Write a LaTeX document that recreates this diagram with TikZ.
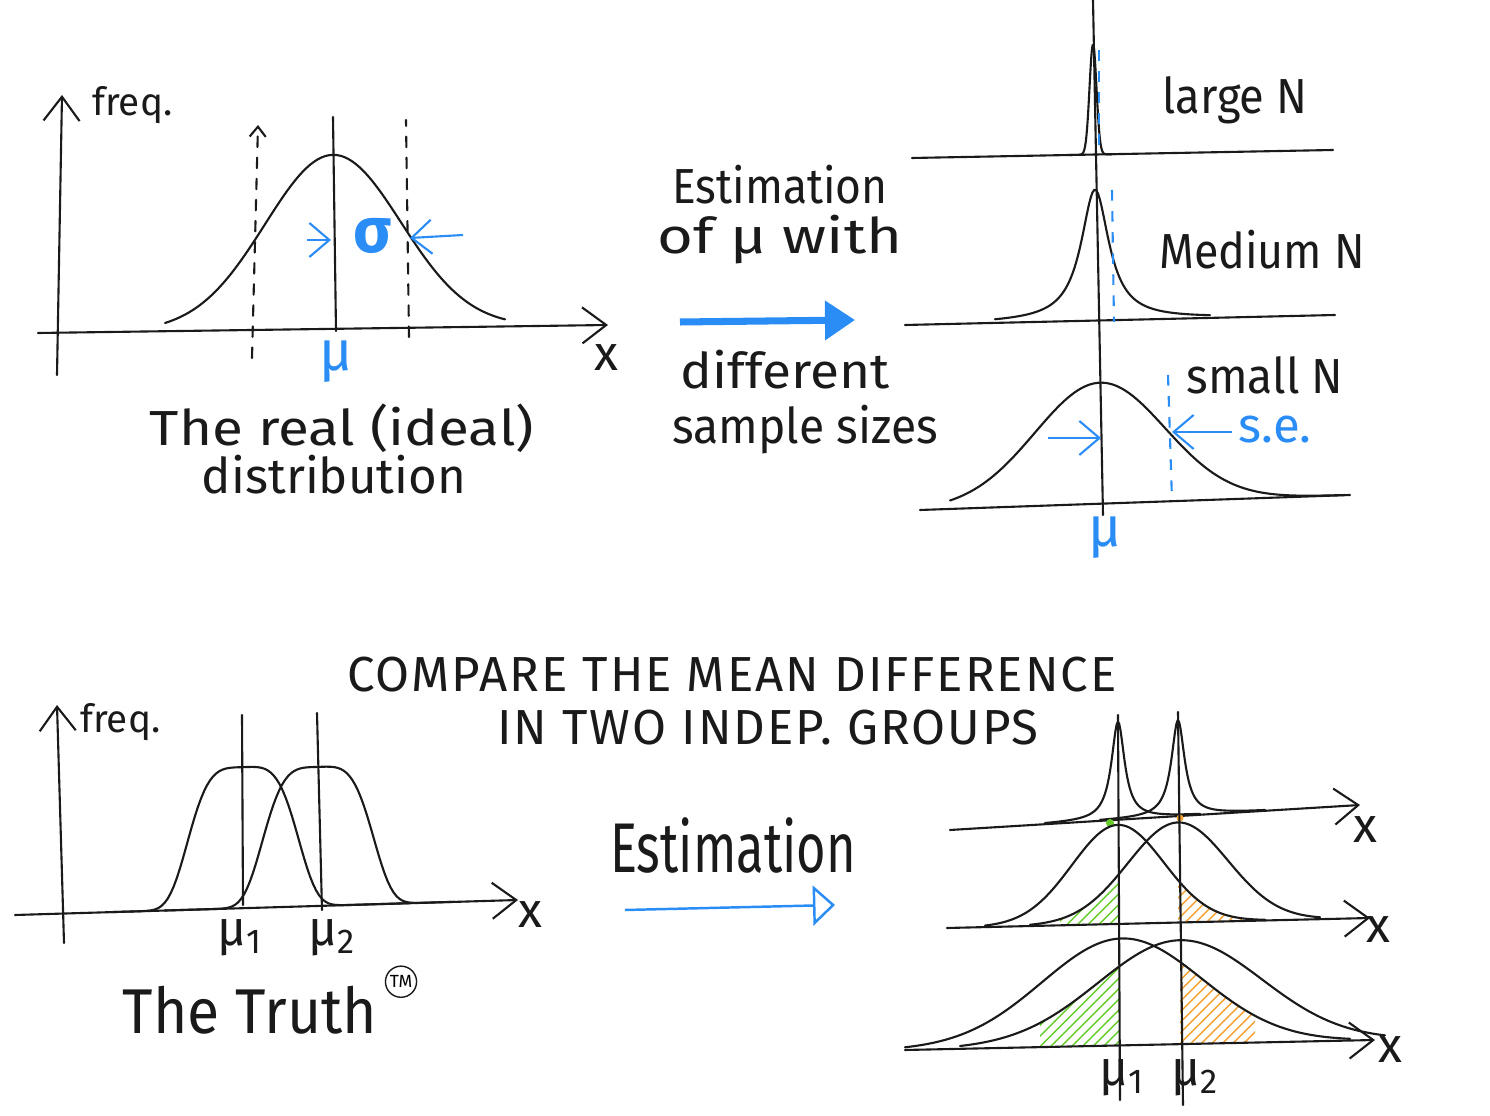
\documentclass[tikz,border=0pt]{standalone}
\usepackage{fontspec}
\setmainfont{Fira Sans}
\usepackage{graphicx}
\usepackage{tikz}
\usetikzlibrary{positioning,arrows.meta,patterns}
\definecolor{SBlue}{HTML}{2A8CF5}
\definecolor{SGreen}{HTML}{66CC2A}
\definecolor{SOrange}{HTML}{F5A030}
\definecolor{SInk}{HTML}{1A1A1A}
\newcommand{\sqz}[2]{\scalebox{#1}[1]{#2}}

\tikzset{
  declare function={gs(\x,\m,\s)=exp(-0.5*((\x-\m)/\s)*((\x-\m)/\s));
                    ct(\x,\m,\g)=1/(1+((\x-\m)/\g)*((\x-\m)/\g));
                    fl(\x,\m,\s)=exp(-((\x-\m)/\s)*((\x-\m)/\s)*((\x-\m)/\s)*((\x-\m)/\s));},
  ink/.style={draw=SInk, line width=0.6pt, line join=round, line cap=round},
  axisarrow/.style={ink, -{Straight Barb[length=2.4mm,width=3.6mm]}},
  bluearrow/.style={draw=SBlue, line width=0.6pt, -{Straight Barb[length=2mm,width=3.4mm]}},
  bluedash/.style={draw=SBlue, line width=0.6pt, dashed},
  hand/.style={font=\fontsize{14}{16}\selectfont, text=SInk, inner sep=1pt},
  caps/.style={font=\fontsize{14}{16}\selectfont\addfontfeatures{LetterSpace=4}, text=SInk, inner sep=1pt},
  small/.style={font=\fontsize{11}{13}\selectfont, text=SInk, inner sep=1pt},
  bluetxt/.style={font=\fontsize{16}{18}\selectfont, text=SBlue, inner sep=1pt},
  hatchgreen/.style={pattern=north east lines, pattern color=SGreen},
  hatchorange/.style={pattern=north east lines, pattern color=SOrange},
}

\begin{document}
\begin{tikzpicture}[x=0.01cm, y=-0.01cm]
  \useasboundingbox (0,0) rectangle (1490,1116);

  % the real distribution
  \draw[axisarrow] (57,375) -- (62,95);
  \draw[axisarrow] (38,333) -- (608,325);
  \node[small, anchor=west] (freqA) at (88,105) {freq.};
  \node[hand] (xA) at (606,358) {x};
  \draw[ink] plot[domain=165:505, samples=90] (\x,{333-0.014*(\x-38)-174*gs(\x,333,68)});
  \draw[ink] (333,117) -- (336,331);
  \draw[ink, dashed, -{Straight Barb[length=1mm,width=1.6mm]}] (252,358) -- (258,125);
  \draw[ink, dashed] (409,337) -- (406,120);
  \coordinate (sgL) at (307,240);
  \coordinate (sgR) at (463,235);
  \draw[bluearrow] (sgL) -- (331,240);
  \draw[bluearrow] (sgR) -- (410,238);
  \node[bluetxt, font=\fontsize{18}{20}\selectfont\bfseries] (sigmaA) at (373,236) {σ};
  \node[bluetxt] (muA) at (336,362) {μ};
  \node[hand] (realA) at (342,428) {\sqz{1.15}{The real (ideal)}};
  \node[hand] (realB) at (334,475) {\sqz{1.0}{distribution}};

  % estimation with sample sizes
  \node[hand] (estA) at (780,185) {\sqz{0.9}{Estimation}};
  \node[hand] (estB) at (780,240) {\sqz{1.25}{of μ with}};
  \node[hand] (estC) at (785,370) {\sqz{1.08}{different}};
  \node[hand] (estD) at (805,430) {\sqz{0.94}{sample sizes}};
  \coordinate (goA) at (680,322);
  \coordinate (goB) at (855,320);
  \draw[draw=SBlue, line width=2pt, -{Triangle[length=3mm,width=3.8mm]}] (goA) -- (goB);

  \draw[ink] (1093,0) -- (1103,515);
  % large N
  \draw[ink] (912,158) -- (1333,150);
  \draw[ink] plot[domain=1070:1116, samples=90] (\x,{158-0.019*(\x-912)-110*gs(\x,1093,3.5)});
  \draw[bluedash] (1099,50) -- (1099,152);
  \node[hand] (nLarge) at (1235,100) {\sqz{0.92}{large N}};
  % medium N
  \draw[ink] (905,325) -- (1335,315);
  \draw[ink] plot[domain=995:1210, samples=120] (\x,{325-0.023*(\x-905)-131*ct(\x,1095,17)});
  \draw[bluedash] (1112,190) -- (1114,322);
  \node[hand] (nMed) at (1262,250) {\sqz{0.91}{Medium N}};
  % small N
  \draw[ink] (920,510) -- (1350,495);
  \draw[ink] plot[domain=950:1345, samples=100] (\x,{510-0.035*(\x-920)-121*gs(\x,1100,65)});
  \draw[bluedash] (1168,375) -- (1172,500);
  \node[hand] (nSmall) at (1265,375) {\sqz{0.94}{small N}};
  \coordinate (seL) at (1048,438);
  \coordinate (seR) at (1232,432);
  \draw[bluearrow] (seL) -- (1101,438);
  \draw[bluearrow] (seR) -- (1172,432);
  \node[bluetxt, font=\fontsize{14}{16}\selectfont] (seA) at (1275,430) {s.e.};
  \node[bluetxt] (muB) at (1105,538) {μ};

  % two groups
  \node[caps] (cmpA) at (732,675) {COMPARE THE MEAN DIFFERENCE};
  \node[caps] (cmpB) at (768,728) {IN TWO INDEP. GROUPS};

  \draw[axisarrow] (64,943) -- (57,705);
  \draw[axisarrow] (15,915) -- (518,900);
  \node[small, anchor=west] (freqB) at (76,722) {freq.};
  \node[hand] (xB) at (530,915) {x};
  \draw[ink] plot[domain=110:410, samples=100] (\x,{915-0.03*(\x-15)-141*fl(\x,243,60)});
  \draw[ink] plot[domain=165:455, samples=100] (\x,{915-0.03*(\x-15)-139*fl(\x,318,60)});
  \draw[ink] (242,715) -- (243,905);
  \draw[ink] (317,713) -- (322,910);
  \node[hand] (muC) at (240,938) {μ\textsubscript{1}};
  \node[hand] (muD) at (332,938) {μ\textsubscript{2}};
  \node[hand, font=\fontsize{18}{20}\selectfont] (truth) at (250,1010) {\sqz{0.93}{The Truth}};
  \node[draw=SInk, circle, inner sep=0.6pt, font=\fontsize{5}{5}\selectfont, right=1pt of truth.north east] (tm) {TM};

  \node[hand, font=\fontsize{20}{22}\selectfont] (estE) at (733,845) {\sqz{0.72}{Estimation}};
  \coordinate (goC) at (625,910);
  \coordinate (goD) at (835,905);
  \draw[draw=SBlue, line width=0.7pt, -{Triangle[open,length=2.2mm,width=4mm]}] (goC) -- (goD);

  % large N per group
  \draw[axisarrow] (950,830) -- (1360,805);
  \node[hand] (xC) at (1365,830) {x};
  \draw[ink] plot[domain=1045:1200, samples=120] (\x,{830-0.061*(\x-950)-98*ct(\x,1118,8)});
  \draw[ink] plot[domain=1100:1265, samples=120] (\x,{830-0.061*(\x-950)-96*ct(\x,1178,8)});
  \fill[SGreen] (1110,823) circle (4);
  \fill[SOrange] (1180,818) circle (3.5);
  % medium N per group
  \fill[hatchgreen] plot[domain=1060:1118, samples=30] (\x,{928-0.024*(\x-947)-100*gs(\x,1178,50)}) -- (1118,924) -- (1060,925.5) -- cycle;
  \fill[hatchorange] plot[domain=1178:1250, samples=30] (\x,{928-0.024*(\x-947)-99*gs(\x,1118,46)}) -- (1250,921) -- (1178,922.5) -- cycle;
  \draw[axisarrow] (947,928) -- (1370,918);
  \node[hand] (xD) at (1378,930) {x};
  \draw[ink] plot[domain=985:1265, samples=100] (\x,{928-0.024*(\x-947)-99*gs(\x,1118,46)});
  \draw[ink] plot[domain=1030:1320, samples=100] (\x,{928-0.024*(\x-947)-100*gs(\x,1178,50)});
  % small N per group
  \fill[hatchgreen] plot[domain=1040:1120, samples=30] (\x,{1050-0.021*(\x-905)-104*gs(\x,1180,82)}) -- (1120,1045.5) -- (1040,1047.2) -- cycle;
  \fill[hatchorange] plot[domain=1180:1255, samples=30] (\x,{1050-0.021*(\x-905)-107*gs(\x,1122,80)}) -- (1255,1042.6) -- (1180,1044.2) -- cycle;
  \draw[axisarrow] (905,1050) -- (1375,1040);
  \node[hand] (xE) at (1390,1050) {x};
  \draw[ink] plot[domain=905:1350, samples=120] (\x,{1050-0.021*(\x-905)-107*gs(\x,1122,80)});
  \draw[ink] plot[domain=960:1385, samples=120] (\x,{1050-0.021*(\x-905)-104*gs(\x,1180,82)});
  \draw[ink] (1118,715) -- (1120,1100);
  \draw[ink] (1178,712) -- (1183,1105);
  \node[hand] (muE) at (1122,1078) {μ\textsubscript{1}};
  \node[hand] (muF) at (1195,1078) {μ\textsubscript{2}};
\end{tikzpicture}
\end{document}
